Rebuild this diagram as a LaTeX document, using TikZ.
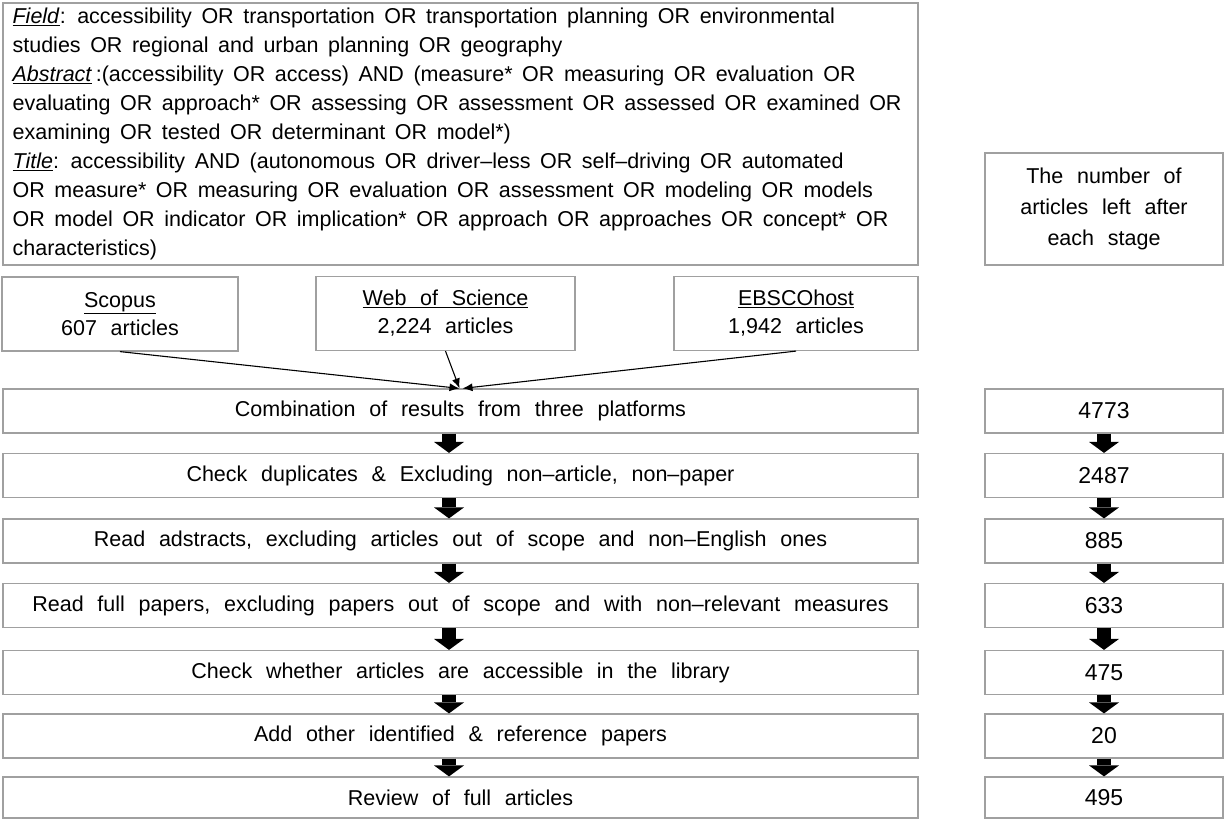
\documentclass[tikz,border=0pt]{standalone}
\usepackage{fontspec}
\setmainfont[WordSpace=2.3]{Liberation Sans}
\newfontfamily\termsfont[WordSpace=1.6]{Liberation Sans}
\usetikzlibrary{arrows.meta}
\definecolor{boxgray}{RGB}{160,160,160}

\begin{document}
\begin{tikzpicture}[x=1pt, y=-1pt,
	box/.style={draw=boxgray, line width=1.2pt, inner sep=0pt, align=center, font=\fontsize{21.5}{28}\selectfont},
	srcbox/.style={box, minimum height=74pt},
	stagebox/.style={box, minimum width=915pt, minimum height=44pt},
	numbox/.style={box, minimum width=238pt, minimum height=44pt, font=\fontsize{23}{28}\selectfont},
	flow/.style={line width=14pt, -{Triangle[width=30pt, length=11pt, line width=0pt]}},
	feed/.style={line width=1.1pt, -{Latex[length=10pt, width=8pt]}}]
		\useasboundingbox (0,0) rectangle (1225,819);
		\node[box, minimum width=915pt, minimum height=262pt] (query) at (460.5,134) {};
		\node[anchor=west, inner sep=0pt, align=left, font=\termsfont\fontsize{21.5}{29}\selectfont] (terms) at ([xshift=10pt]query.west) {\underline{\textit{Field}}: accessibility OR transportation OR transportation planning OR environmental\\
			studies OR regional and urban planning OR geography\\
			\underline{\textit{Abstract}}\,:(accessibility OR access) AND (measure* OR measuring OR evaluation OR\\
			evaluating OR approach* OR assessing OR assessment OR assessed OR examined OR\\
			examining OR tested OR determinant OR model*)\\
			\underline{\textit{Title}}: accessibility AND (autonomous OR driver–less OR self–driving OR automated\\
			OR measure* OR measuring OR evaluation OR assessment OR modeling OR models\\
			OR model OR indicator OR implication* OR approach OR approaches OR concept* OR\\
			characteristics)};
		\node[box, minimum width=238pt, minimum height=112pt, font=\fontsize{21.5}{31}\selectfont] (header) at (1104,209) {The number of\\articles left after\\each stage};
			\node[srcbox, minimum width=236pt] (scopus) at (120,314) {\underline{Scopus}\\607 articles};
			\node[srcbox, minimum width=259pt] (wos) at (445.5,313.5) {\underline{Web of Science}\\2,224 articles};
			\node[srcbox, minimum width=244pt] (ebsco) at (796,313.5) {\underline{EBSCOhost}\\1,942 articles};
			\node[stagebox] (s1) at (460.5,411) {Combination of results from three platforms};
			\node[stagebox] (s2) at (460.5,475.5) {Check duplicates \& Excluding non–article, non–paper};
			\node[stagebox] (s3) at (460.5,541) {Read adstracts, excluding articles out of scope and non–English ones};
			\node[stagebox] (s4) at (460.5,605.5) {Read full papers, excluding papers out of scope and with non–relevant measures};
			\node[stagebox] (s5) at (460.5,672.5) {Check whether articles are accessible in the library};
			\node[stagebox] (s6) at (460.5,736) {Add other identified \& reference papers};
			\node[stagebox, minimum height=41pt] (s7) at (460.5,797.5) {Review of full articles};
			\node[numbox] (n1) at (1104,411) {4773};
			\node[numbox] (n2) at (1104,475.5) {2487};
			\node[numbox] (n3) at (1104,541) {885};
			\node[numbox] (n4) at (1104,605.5) {633};
			\node[numbox] (n5) at (1104,672.5) {475};
			\node[numbox] (n6) at (1104,736) {20};
			\node[numbox, minimum height=41pt] (n7) at (1104,797.5) {495};
		\coordinate (ax) at (449,0);
		\draw[feed] (scopus.south) -- ([xshift=-1pt]s1.north);
		\draw[feed] (wos.south) -- ([xshift=-1pt]s1.north);
		\draw[feed] (ebsco.south) -- ([xshift=2pt]s1.north);
		\draw[flow] (s1.south -| ax) -- (s2.north -| ax);
		\draw[flow] (s2.south -| ax) -- (s3.north -| ax);
		\draw[flow] (s3.south -| ax) -- (s4.north -| ax);
		\draw[flow] (s4.south -| ax) -- (s5.north -| ax);
		\draw[flow] (s5.south -| ax) -- (s6.north -| ax);
		\draw[flow] (s6.south -| ax) -- (s7.north -| ax);
		\draw[flow] (n1.south) -- (n2.north);
		\draw[flow] (n2.south) -- (n3.north);
		\draw[flow] (n3.south) -- (n4.north);
		\draw[flow] (n4.south) -- (n5.north);
		\draw[flow] (n5.south) -- (n6.north);
		\draw[flow] (n6.south) -- (n7.north);
		\end{tikzpicture}
\end{document}
